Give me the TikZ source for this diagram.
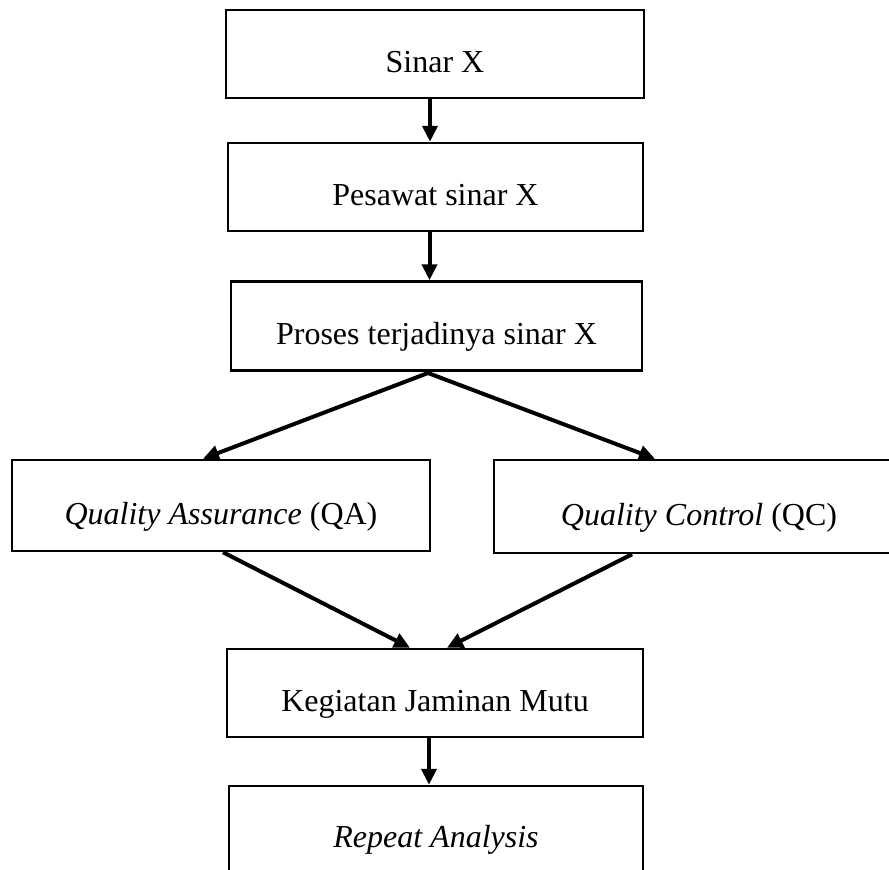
\documentclass[tikz,border=0pt]{standalone}
\usepackage{fontspec}
\setmainfont{Liberation Serif}
\usetikzlibrary{arrows.meta}
\tikzset{
  box/.style={draw=black, line width=2.5pt, rectangle, inner sep=0pt,
    text height=37pt, text depth=0pt, minimum height=88pt},
  arr/.style={line width=4pt, -{Triangle[length=16pt,width=15pt]}},
}
\begin{document}
\begin{tikzpicture}[x=1pt,y=-1pt,font=\fontsize{32}{38}\selectfont]
\clip (0,0) rectangle (889,870);
\fill[white] (0,0) rectangle (889,870);
\node[box, minimum width=418pt] (sx) at (435,54) {Sinar X};
\node[box, minimum width=415pt] (ps) at (435.5,187) {Pesawat sinar X};
\node[box, minimum width=411pt, minimum height=89pt] (pr) at (436.5,326) {Proses terjadinya sinar X};
\node[box, minimum width=418pt, minimum height=91pt] (qa) at (221,505.5) {\textit{Quality Assurance} (QA)};
\node[box, minimum width=410pt, minimum height=93pt] (qc) at (699,506.5) {\textit{Quality Control} (QC)};
\node[box, minimum width=416pt] (kj) at (435,693) {Kegiatan Jaminan Mutu};
\node[box, minimum width=414pt, minimum height=86pt] (ra) at (436,829) {\textit{Repeat Analysis}};
\coordinate (apex) at (428,373);
\draw[arr] ([xshift=-5pt]sx.south) -- ([xshift=-5.5pt]ps.north);
\draw[arr] ([xshift=-6pt]ps.south) -- ([xshift=-7pt]pr.north);
\draw[line width=4pt] ([xshift=-8.5pt]pr.south) -- (apex);
\draw[arr] (apex) -- ([xshift=-18pt]qa.north);
\draw[arr] (apex) -- ([xshift=-44pt]qc.north);
\draw[arr] ([xshift=2pt]qa.south) -- ([xshift=-25pt]kj.north);
\draw[arr] ([xshift=-67pt]qc.south) -- ([xshift=12pt]kj.north);
\draw[arr] ([xshift=-6pt]kj.south) -- ([xshift=-7pt]ra.north);
\end{tikzpicture}
\end{document}
